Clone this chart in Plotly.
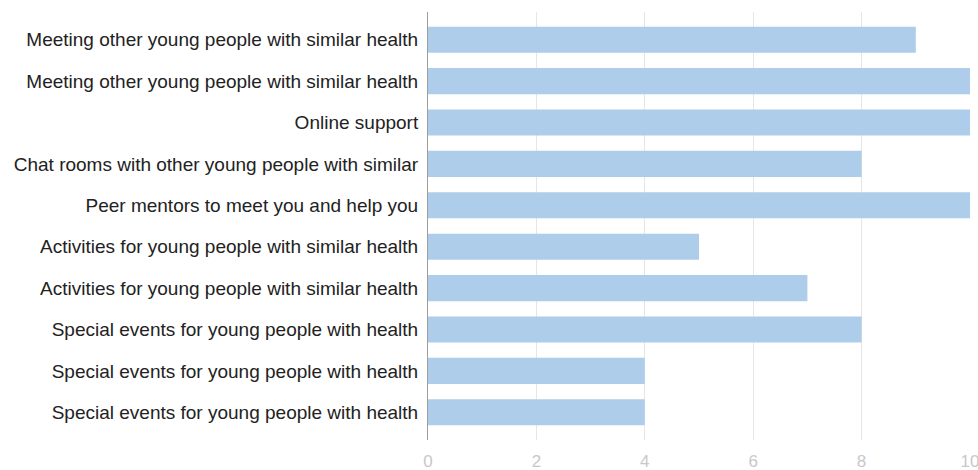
import plotly.graph_objects as go

categories = [
    "Meeting other young people with similar health",
    "Meeting other young people with similar health",
    "Online support",
    "Chat rooms with other young people with similar",
    "Peer mentors to meet you and help you",
    "Activities for young people with similar health",
    "Activities for young people with similar health",
    "Special events for young people with health",
    "Special events for young people with health",
    "Special events for young people with health",
]
values = [9, 10, 10, 8, 10, 5, 7, 8, 4, 4]
x_ticks = [0, 2, 4, 6, 8, 10]

idx = list(range(len(categories)))

fig = go.Figure(go.Bar(
    x=values, y=idx, orientation="h",
    marker=dict(color="#aecdeb", line=dict(width=0)),
    width=0.63,
))

fig.update_layout(
    width=978, height=470,
    margin=dict(l=428, r=8, t=12, b=30, autoexpand=False),
    paper_bgcolor="white", plot_bgcolor="white",
    showlegend=False,
    font=dict(family="Liberation Sans, Arial, sans-serif", color="#222222"),
)
fig.update_xaxes(
    range=[0, 10], tickvals=x_ticks, ticktext=[str(t) for t in x_ticks],
    showgrid=True, gridcolor="#e6e6e6", gridwidth=1,
    zeroline=False, showline=False, automargin=False,
    tickfont=dict(size=17, color="#c8c8c8"),
    ticks="", ticklabelstandoff=9, ticklabeloverflow="allow",
)
fig.update_yaxes(
    range=[9.67, -0.67], tickvals=idx, ticktext=categories,
    showgrid=False, zeroline=False, automargin=False,
    showline=True, linecolor="#9e9e9e", linewidth=1,
    tickfont=dict(size=19, color="#222222"),
    ticks="", ticklabelstandoff=5,
)

fig.write_html(
    "out.html",
    config={"displayModeBar": False},
    post_script="document.body.style.margin='0';document.body.style.overflow='hidden';",
)
